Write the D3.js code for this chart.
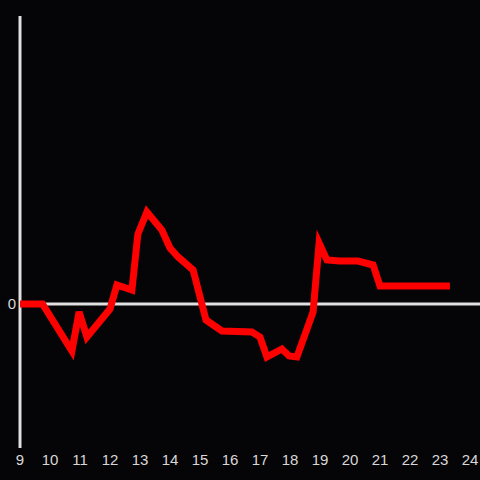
<!DOCTYPE html>
<html><head><meta charset="utf-8">
<script src="https://cdn.jsdelivr.net/npm/d3@7"></script>
<style>html,body{margin:0;padding:0;background:#050507;}</style>
</head><body>
<script>
const hours = [9, 9.75, 10.73, 10.97, 11.23, 12.0, 12.23, 12.73, 12.93, 13.23, 13.73, 14.0, 14.27, 14.77, 15.2, 15.73, 16.73, 17.0, 17.23, 17.73, 17.97, 18.23, 18.77, 18.97, 19.23, 19.67, 20.27, 20.77, 21.0, 23.33];
const values = [0, 0, -47, -8, -33, -5, 19, 14, 70, 92, 74, 56, 47, 34, -16, -27, -28, -33, -53, -45, -52, -53, -8, 61, 44, 43, 43, 39, 18, 18];
const xTicks = d3.range(9, 25);
const yTicks = [0];

const W = 480, H = 480;
const svg = d3.select("body").append("svg").attr("width", W).attr("height", H)
  .style("background", "#050507");
const x = d3.scaleLinear().domain([9, 24]).range([20, 470]);
const y = d3.scaleLinear().domain([-144, 288]).range([448, 16]);

svg.append("line").attr("x1", 20).attr("x2", 20).attr("y1", y(288)).attr("y2", y(-144))
  .attr("stroke", "#e0e0e0").attr("stroke-width", 3);
svg.append("line").attr("x1", 20).attr("x2", W).attr("y1", y(0)).attr("y2", y(0))
  .attr("stroke", "#e0e0e0").attr("stroke-width", 3);

svg.selectAll(".xt").data(xTicks).enter().append("text")
  .attr("x", d => x(d)).attr("y", 461).attr("text-anchor", "middle").attr("dominant-baseline", "middle")
  .attr("fill", "#d8d8d8").style("font-family", "Liberation Sans, Arial, sans-serif").style("font-size", "15px")
  .text(d => d);
svg.selectAll(".yt").data(yTicks).enter().append("text")
  .attr("x", 16).attr("y", d => y(d) + 1).attr("text-anchor", "end").attr("dominant-baseline", "middle")
  .attr("fill", "#d8d8d8").style("font-family", "Liberation Sans, Arial, sans-serif").style("font-size", "15px")
  .text(d => d);

const line = d3.line().x((d, i) => x(hours[i])).y(d => y(d));
svg.append("path").datum(values).attr("d", line).attr("fill", "none")
  .attr("stroke", "#ff0000").attr("stroke-width", 7).attr("stroke-linejoin", "miter");
</script>
</body></html>
